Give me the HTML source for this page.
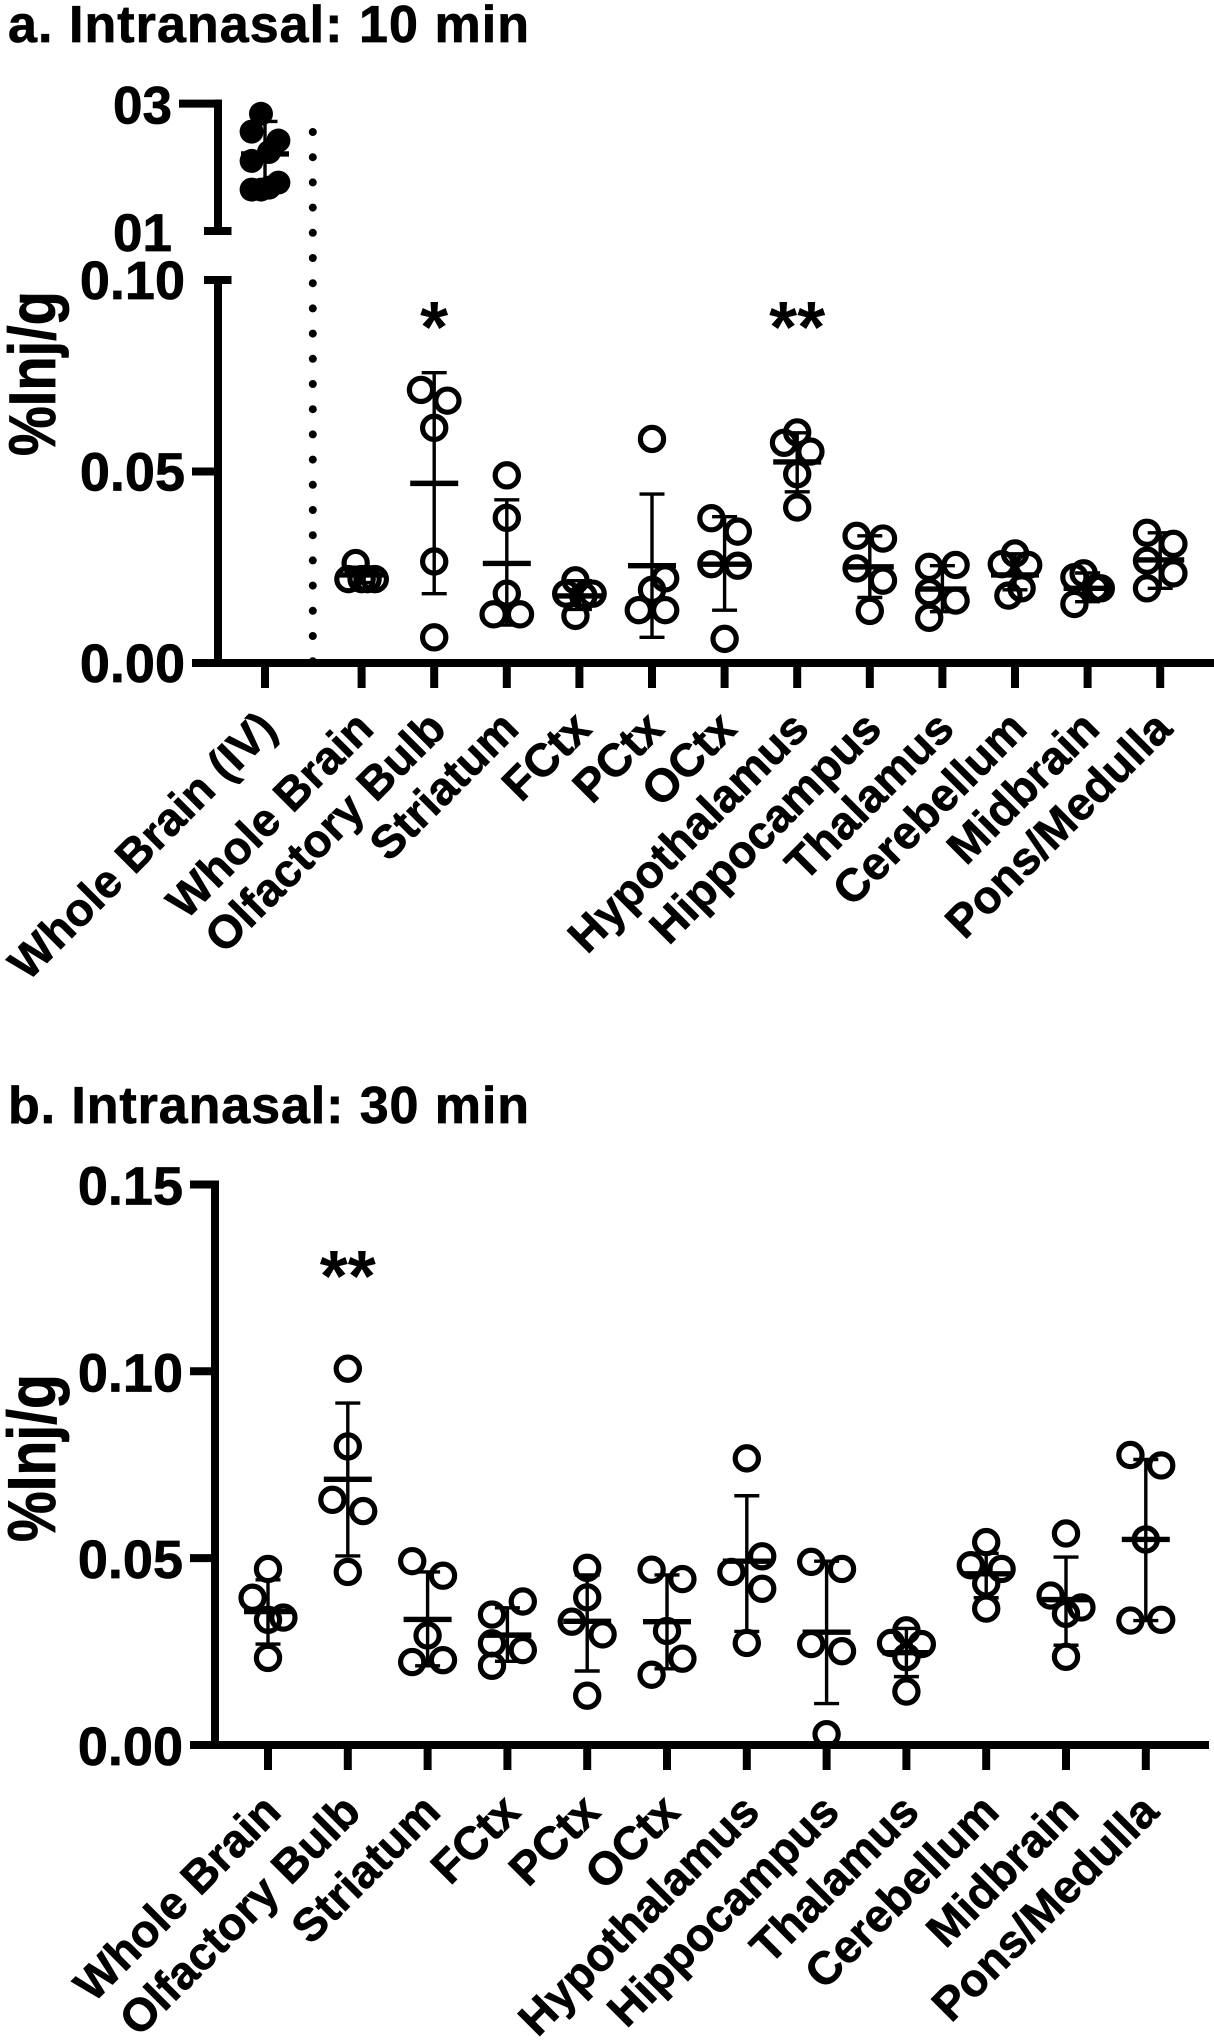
<!DOCTYPE html>
<html lang="en">
<head>
<meta charset="utf-8">
<title>Intranasal brain distribution</title>
<style>
html,body{margin:0;padding:0;background:#fff;}
svg{display:block;}
text{font-family:"Liberation Sans",Arial,sans-serif;font-weight:700;fill:#000;stroke:#000;stroke-width:0.7px;}
</style>
</head>
<body>
<svg id="chart" xmlns="http://www.w3.org/2000/svg" width="1214" height="2040" viewBox="0 0 1214 2040">
  <rect x="0" y="0" width="1214" height="2040" fill="#fff"/>
  <text x="8" y="42" font-size="52" textLength="521" lengthAdjust="spacing">a. Intranasal: 10 min</text>
  <text x="8" y="1123" font-size="52" textLength="521" lengthAdjust="spacing">b. Intranasal: 30 min</text>
  <text transform="translate(55,456) rotate(-90) scale(1,1.18)" font-size="56">%Inj/g</text>
  <text transform="translate(55,1542) rotate(-90) scale(1,1.18)" font-size="57">%Inj/g</text>
</svg>
<script>
// ---------- Panel a data ----------
const categoriesA = ["Whole Brain (IV)","Whole Brain","Olfactory Bulb","Striatum","FCtx","PCtx","OCtx","Hypothalamus","Hippocampus","Thalamus","Cerebellum","Midbrain","Pons/Medulla"];
const ivPoints = [2.84,2.56,2.42,2.24,2.10,1.76,1.68,1.65,1.65];
const ivSlots = [-0.3,-1,1,0.3,-1,1,0.3,-1,-0.3];
const ivMean = 2.21;
const ivErrTop = 2.72;
const ivErrBottom = 1.70;
const pointsA = [
  [0.0261,0.0219,0.0219,0.0219,0.0219],
  [0.0713,0.0685,0.0614,0.0265,0.0067],
  [0.0490,0.0379,0.0181,0.0127,0.0127],
  [0.0216,0.0181,0.0181,0.0175,0.0123],
  [0.0585,0.0221,0.0191,0.0138,0.0138],
  [0.0378,0.0343,0.0258,0.0254,0.0063],
  [0.0602,0.0575,0.0552,0.0493,0.0406],
  [0.0332,0.0325,0.0247,0.0215,0.0136],
  [0.0251,0.0256,0.0185,0.0163,0.0118],
  [0.0286,0.0258,0.0256,0.0195,0.0176],
  [0.0234,0.0224,0.0195,0.0195,0.0154],
  [0.0340,0.0311,0.0267,0.0234,0.0195]
];
const slotsA = [
  [-0.45,-1,0.45,0,1],
  [-1,1,0,0,0],
  [0,0,0,-1,1],
  [-0.3,-1,1,0.3,-0.3],
  [0,1,0,-1,1],
  [-1,1,-1,1,0],
  [0,-1,1,0,0],
  [-1,1,-1,1,0],
  [-1,1,-1,1,-1],
  [0,-1,1,0.5,-0.5],
  [-0.3,-1,1,0.6,-1],
  [-1,1,-1,1,-1]
];
const meansA = [0.0230,0.0469,0.0260,0.0175,0.0254,0.0258,0.0525,0.0251,0.0193,0.0230,0.0195,0.0269];
const errTopA = [0.0250,0.0758,0.0426,0.0215,0.0441,0.0382,0.0601,0.0332,0.0254,0.0285,0.0235,0.0340];
const errBottomA = [0.0210,0.0181,0.0099,0.0140,0.0067,0.0138,0.0447,0.0171,0.0134,0.0191,0.0160,0.0195];
const tickValuesLowerA = [0,0.05,0.10];
const tickLabelsLowerA = ["0.00","0.05","0.10"];
const tickValuesUpperA = [1,3];
const tickLabelsUpperA = ["01","03"];
const significanceA = {"Olfactory Bulb":"*","Hypothalamus":"**"};

// ---------- Panel b data ----------
const categoriesB = ["Whole Brain","Olfactory Bulb","Striatum","FCtx","PCtx","OCtx","Hypothalamus","Hippocampus","Thalamus","Cerebellum","Midbrain","Pons/Medulla"];
const pointsB = [
  [0.0471,0.0394,0.0335,0.0341,0.0233],
  [0.1007,0.0799,0.0656,0.0626,0.0463],
  [0.0492,0.0453,0.0293,0.0222,0.0227],
  [0.0384,0.0349,0.0272,0.0254,0.0212],
  [0.0474,0.0395,0.0330,0.0296,0.0132],
  [0.0469,0.0444,0.0305,0.0231,0.0188],
  [0.0767,0.0505,0.0463,0.0418,0.0273],
  [0.0490,0.0471,0.0270,0.0251,0.0029],
  [0.0307,0.0273,0.0270,0.0235,0.0143],
  [0.0543,0.0481,0.0471,0.0432,0.0365],
  [0.0566,0.0400,0.0368,0.0351,0.0236],
  [0.0776,0.0748,0.0550,0.0333,0.0335]
];
const slotsB = [
  [0,-1,0,1,0],
  [0,0,-1,1,0],
  [-1,1,0,-1,1],
  [1,-1,-1,1,-1],
  [0,0,-1,1,0],
  [-1,1,0,1,-1],
  [0,1,-1,1,0],
  [-1,1,-1,1,0],
  [0,-1,1,0,0],
  [0,-1,1,0,0],
  [0,-1,1,0,0],
  [-1,1,0,-1,1]
];
const meansB = [0.0357,0.0711,0.0336,0.0294,0.0331,0.0330,0.0492,0.0302,0.0247,0.0458,0.0389,0.0550];
const errTopB = [0.0442,0.0915,0.0463,0.0367,0.0455,0.0455,0.0667,0.0492,0.0312,0.0513,0.0503,0.0764];
const errBottomB = [0.0270,0.0506,0.0212,0.0224,0.0198,0.0204,0.0304,0.0111,0.0183,0.0394,0.0267,0.0333];
const tickValuesB = [0,0.05,0.10,0.15];
const tickLabelsB = ["0.00","0.05","0.10","0.15"];
const significanceB = {"Olfactory Bulb":"**"};

// ---------- Axis functions ----------
const yLowerA = v => 663 - v * 3830;
const yUpperA = v => 231 - (v - 1) * 63.7;
const xA = i => i === 0 ? 265 : 361.6 + (i - 1) * 72.6;
const yB = v => 1745 - v * 3737;
const xB = i => 268 + i * 79.8;

const svg = document.getElementById('chart');
const NS = 'http://www.w3.org/2000/svg';

function line(parent, x1, y1, x2, y2, w) {
  const el = document.createElementNS(NS, 'line');
  el.setAttribute('x1', x1);
  el.setAttribute('y1', y1);
  el.setAttribute('x2', x2);
  el.setAttribute('y2', y2);
  el.setAttribute('stroke', '#000');
  el.setAttribute('stroke-width', w);
  parent.appendChild(el);
  return el;
}
function group(parent) {
  const g = document.createElementNS(NS, 'g');
  parent.appendChild(g);
  return g;
}
function label(parent, str, x, y, size, anchor) {
  const t = document.createElementNS(NS, 'text');
  t.setAttribute('x', x);
  t.setAttribute('y', y);
  t.setAttribute('font-size', size);
  t.setAttribute('text-anchor', anchor);
  t.textContent = str;
  parent.appendChild(t);
  return t;
}
function circle(parent, cx, cy, r, filled) {
  const c = document.createElementNS(NS, 'circle');
  c.setAttribute('cx', cx);
  c.setAttribute('cy', cy);
  c.setAttribute('r', r);
  c.setAttribute('fill', filled ? '#000' : 'none');
  c.setAttribute('stroke', filled ? 'none' : '#000');
  c.setAttribute('stroke-width', filled ? 0 : 5.2);
  parent.appendChild(c);
  return c;
}
function errorBars(parent, x, yMean, yTop, yBottom) {
  const stem = line(parent, x, yTop, x, yBottom, 3.4);
  
  
  const capTop = line(parent, x - 12.5, yTop, x + 12.5, yTop, 3.4);
  
  
  const capBottom = line(parent, x - 12.5, yBottom, x + 12.5, yBottom, 3.4);
  
  
  const mean = line(parent, x - 24, yMean, x + 24, yMean, 5.4);
  
  
}
function xLabel(parent, str, x, y) {
  const t = label(parent, str, 0, 0, 46, 'end');
  t.setAttribute('transform', 'translate(' + x + ',' + y + ') rotate(-45)');
  
  
}

// ---------- Panel a ----------
const panelA = group(svg);



const axisUpper = line(panelA, 218, yUpperA(3) - 4, 218, yUpperA(1) + 4, 8);


const axisLower = line(panelA, 218, yLowerA(0.10) - 4, 218, yLowerA(0) + 4, 8);


const axisXA = line(panelA, 192, yLowerA(0), 1214, yLowerA(0), 8);



tickValuesUpperA.forEach((v, i) => {
  const left = v === 3 ? 179 : 204;
  const right = v === 3 ? 222 : 231.5;
  const tick = line(panelA, left, yUpperA(v), right, yUpperA(v), 8);
  
  
  const t = label(panelA, tickLabelsUpperA[i], 172, yUpperA(v) + 20, 53, 'end');
  
  
});
tickValuesLowerA.forEach((v, i) => {
  const top = v === 0.10;
  const tick = line(panelA, top ? 204 : 192, yLowerA(v), top ? 231.5 : 218, yLowerA(v), 8);
  
  
  const t = label(panelA, tickLabelsLowerA[i], 185, yLowerA(v) + 19, 54, 'end');
  
  
});

const divider = line(panelA, 312.8, 132, 312.8, 662, 8);
divider.setAttribute('stroke-dasharray', '0 25.2');
divider.setAttribute('stroke-linecap', 'round');



categoriesA.forEach((name, i) => {
  const tick = line(panelA, xA(i), 663, xA(i), 688, 8);
  
  
  xLabel(panelA, name, xA(i) + 14, 731);
  if (significanceA[name]) {
    const s = label(panelA, significanceA[name], xA(i), 352, 72, 'middle');
    
    
    s.style.strokeWidth = '0';
  }
});

const ivGroup = group(panelA);


errorBars(ivGroup, xA(0), yUpperA(ivMean), yUpperA(ivErrTop), yUpperA(ivErrBottom));
ivPoints.forEach((v, j) => {
  const c = circle(ivGroup, xA(0) + ivSlots[j] * 13.4, yUpperA(v), 12, true);
  
  
});

pointsA.forEach((vals, k) => {
  const cx = xA(k + 1);
  const g = group(panelA);
  
  
  errorBars(g, cx, yLowerA(meansA[k]), yLowerA(errTopA[k]), yLowerA(errBottomA[k]));
  vals.forEach((v, j) => {
    const c = circle(g, cx + slotsA[k][j] * 13.2, yLowerA(v), 11.6, false);
    
    
  });
});

// ---------- Panel b ----------
const panelB = group(svg);



const axisYB = line(panelB, 215, yB(0.15) - 4, 215, yB(0) + 4, 8);


const axisXB = line(panelB, 190, yB(0), 1209, yB(0), 8);



tickValuesB.forEach((v, i) => {
  const tick = line(panelB, 190, yB(v), 215, yB(v), 8);
  
  
  const t = label(panelB, tickLabelsB[i], 183, yB(v) + 20, 54, 'end');
  
  
});

categoriesB.forEach((name, i) => {
  const tick = line(panelB, xB(i), 1745, xB(i), 1770, 8);
  
  
  xLabel(panelB, name, xB(i) + 15, 1814);
  if (significanceB[name]) {
    const s = label(panelB, significanceB[name], xB(i), 1301, 72, 'middle');
    
    
    s.style.strokeWidth = '0';
  }
});

pointsB.forEach((vals, k) => {
  const cx = xB(k);
  const g = group(panelB);
  
  
  errorBars(g, cx, yB(meansB[k]), yB(errTopB[k]), yB(errBottomB[k]));
  vals.forEach((v, j) => {
    const c = circle(g, cx + slotsB[k][j] * 15.4, yB(v), 11.6, false);
    
    
  });
});
</script>
</body>
</html>
